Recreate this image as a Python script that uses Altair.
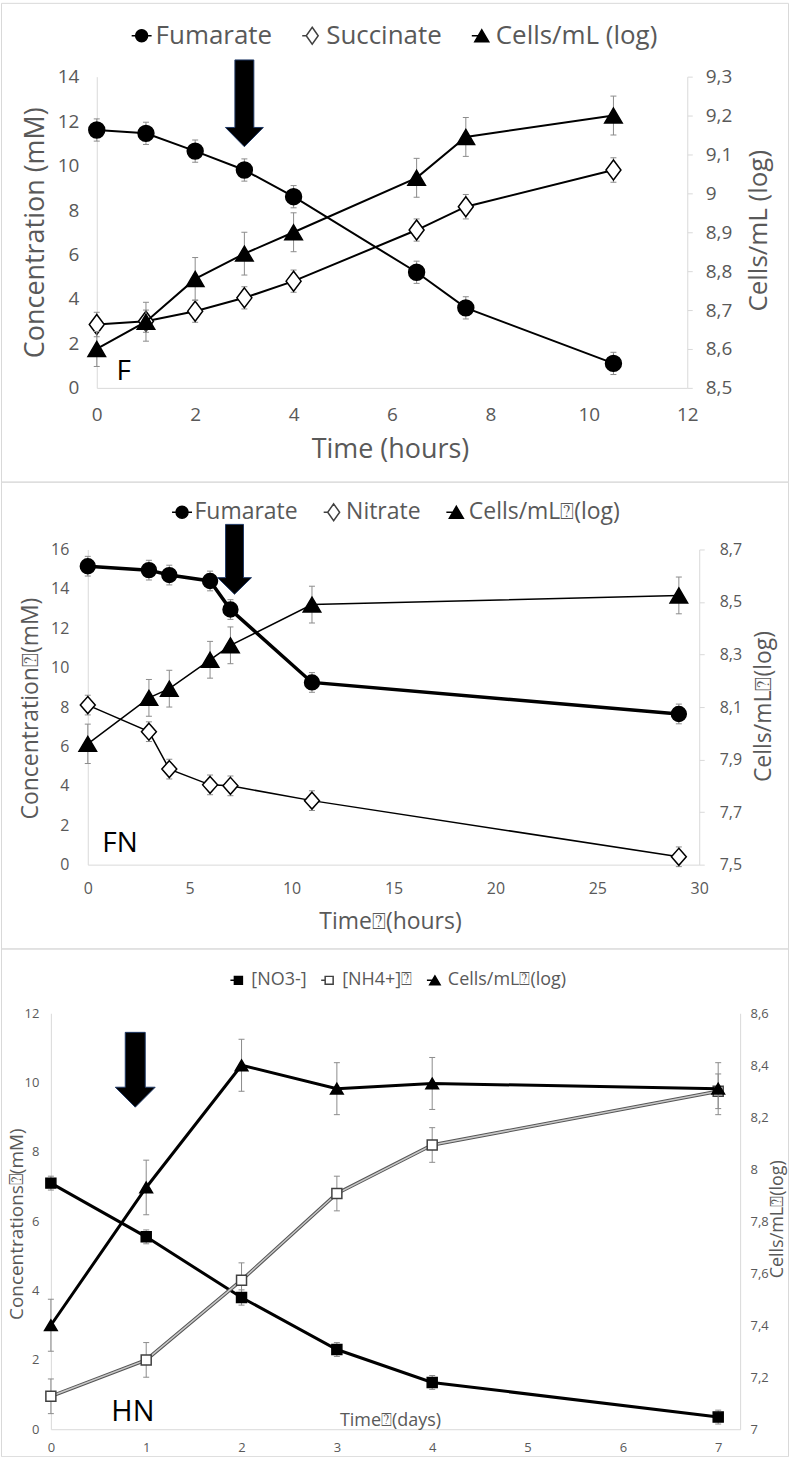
import altair as alt
import pandas as pd

FONT = "Open Sans"
GREY = "#595959"
LINE_GREY = "#d9d9d9"
ERR_GREY = "#8c8c8c"
BOX = "\u2370"

# ---------------- Panel F ----------------
f_time = [0, 1, 2, 3, 4, 6.5, 7.5, 10.5]
f_fumarate = [11.6, 11.45, 10.65, 9.8, 8.6, 5.2, 3.6, 1.1]
f_fumarate_err = [0.5, 0.5, 0.5, 0.5, 0.5, 0.5, 0.5, 0.5]
f_succinate = [2.85, 3.0, 3.45, 4.05, 4.8, 7.1, 8.15, 9.8]
f_succinate_err = [0.55, 0.5, 0.5, 0.5, 0.5, 0.5, 0.55, 0.55]
f_cells = [8.6, 8.67, 8.78, 8.845, 8.9, 9.04, 9.145, 9.2]
f_cells_err = [0.045, 0.05, 0.055, 0.055, 0.05, 0.05, 0.05, 0.05]
f_names = ["Fumarate", "Succinate", "Cells/mL (log)"]
f_xticks = [0, 2, 4, 6, 8, 10, 12]
f_lticks = [0, 2, 4, 6, 8, 10, 12, 14]
f_rticks = [8.5, 8.6, 8.7, 8.8, 8.9, 9.0, 9.1, 9.2, 9.3]
f_arrow_t = [3]
f_arrow_v = [12.8]
f_label = ["F"]
f_label_t = [0.55]
f_label_v = [0.72]

# ---------------- Panel FN ----------------
fn_time = [0, 3, 4, 6, 7, 11, 29]
fn_fumarate = [15.15, 14.95, 14.7, 14.4, 12.95, 9.25, 7.65]
fn_fumarate_err = [0.5, 0.5, 0.5, 0.5, 0.5, 0.5, 0.5]
fn_nitrate = [8.1, 6.75, 4.85, 4.05, 4.0, 3.25, 0.4]
fn_nitrate_err = [0.5, 0.5, 0.5, 0.5, 0.5, 0.5, 0.5]
fn_cells = [7.96, 8.135, 8.17, 8.28, 8.335, 8.49, 8.525]
fn_cells_err = [0.075, 0.07, 0.07, 0.07, 0.07, 0.07, 0.07]
fn_names = ["Fumarate", "Nitrate", "Cells/mL" + BOX + "(log)"]
fn_xticks = [0, 5, 10, 15, 20, 25, 30]
fn_lticks = [0, 2, 4, 6, 8, 10, 12, 14, 16]
fn_rticks = [7.5, 7.7, 7.9, 8.1, 8.3, 8.5, 8.7]
fn_arrow_t = [7.2]
fn_arrow_v = [15.5]
fn_label = ["FN"]
fn_label_t = [1.58]
fn_label_v = [1.06]

# ---------------- Panel HN ----------------
hn_time = [0, 1, 2, 3, 4, 7]
hn_no3 = [7.1, 5.55, 3.8, 2.3, 1.35, 0.35]
hn_no3_err = [0.2, 0.2, 0.22, 0.2, 0.2, 0.2]
hn_nh4 = [0.95, 2.0, 4.3, 6.8, 8.2, 9.75]
hn_nh4_err = [0.5, 0.5, 0.5, 0.5, 0.5, 0.5]
hn_cells = [7.4, 7.93, 8.4, 8.31, 8.33, 8.31]
hn_cells_err = [0.1, 0.105, 0.1, 0.1, 0.1, 0.1]
hn_names = ["[NO3-]", "[NH4+]" + BOX, "Cells/mL" + BOX + "(log)"]
hn_xticks = [0, 1, 2, 3, 4, 5, 6, 7]
hn_lticks = [0, 2, 4, 6, 8, 10, 12]
hn_rticks = [7.0, 7.2, 7.4, 7.6, 7.8, 8.0, 8.2, 8.4, 8.6]
hn_arrow_t = [0.885]
hn_arrow_v = [10.37]
hn_label = ["HN"]
hn_label_t = [0.86]
hn_label_v = [0.49]

COMMA = "replace(format(datum.value, '~g'), '.', ',')"


def frame(t, v, e=None):
    d = {"t": t, "v": v}
    if e is not None:
        d["lo"] = [a - b for a, b in zip(v, e)]
        d["hi"] = [a + b for a, b in zip(v, e)]
    return pd.DataFrame(d)


def arrow_path(hw, sw, hs):
    return (f"M{-sw},-1L{sw},-1L{sw},{hs}L{hw},{hs}L0,1L{-hw},{hs}L{-sw},{hs}Z")


def circ(r):
    return f"M{r},0A{r},{r} 0 1,1 {-r},0A{r},{r} 0 1,1 {r},0Z"


def series(df, X, ysc, yax, line_w, shape, size, fill, stroke="black",
           stroke_w=1.5, cap=3.0, line_color="black", halo=None):
    base = alt.Chart(df)
    ylo = alt.Y("lo:Q", scale=ysc, axis=yax)
    yhi = alt.Y("hi:Q", scale=ysc, axis=yax)
    yv = alt.Y("v:Q", scale=ysc, axis=yax)
    errs = [
        base.mark_rule(color=ERR_GREY, strokeWidth=1).encode(x=X, y=ylo, y2=alt.Y2("hi")),
        base.mark_rule(color=ERR_GREY, strokeWidth=1, xOffset=-cap, x2Offset=cap).encode(
            x=X, x2=alt.X2("t"), y=ylo),
        base.mark_rule(color=ERR_GREY, strokeWidth=1, xOffset=-cap, x2Offset=cap).encode(
            x=X, x2=alt.X2("t"), y=yhi),
    ]
    lines = []
    if halo is not None:
        lines.append(base.mark_line(color=halo[0], strokeWidth=halo[1]).encode(x=X, y=yv))
    lines.append(base.mark_line(color=line_color, strokeWidth=line_w).encode(x=X, y=yv))
    pts = base.mark_point(shape=shape, size=size, filled=True, fill=fill, stroke=stroke,
                          strokeWidth=stroke_w, opacity=1).encode(x=X, y=yv)
    return errs, lines, pts


def legend_layer(names, shapes, fills, strokes, X, yv, legend):
    df = pd.DataFrame({"series": names, "t": [0] * len(names), "v": [0] * len(names)})
    return alt.Chart(df).transform_filter("false").mark_point(
        opacity=1, strokeWidth=1.5, filled=False).encode(
        x=X, y=yv,
        shape=alt.Shape("series:N", scale=alt.Scale(domain=names, range=shapes), legend=legend),
        fill=alt.Fill("series:N", scale=alt.Scale(domain=names, range=fills), legend=legend),
        stroke=alt.Stroke("series:N", scale=alt.Scale(domain=names, range=strokes), legend=legend),
    )


def make_panel(cfg):
    W, H = 789, cfg["H"]
    x0, x1 = cfg["xr"]
    ytop, ybot = cfg["yr"]
    X = alt.X("t:Q", scale=alt.Scale(domain=cfg["xd"], range=[x0, x1], nice=False, zero=False),
              axis=alt.Axis(values=cfg["xticks"], offset=ybot - H, ticks=False, tickSize=0,
                            labelFontSize=cfg["tick_fs"], labelPadding=cfg["xlab_pad"],
                            labelFlush=False, title=cfg["xtitle"], titleFontSize=cfg["xtitle_fs"],
                            titleX=cfg["xtitle_x"], titleY=cfg["xtitle_y"], titleBaseline="middle"))
    lsc = alt.Scale(domain=cfg["ld"], range=[ybot, ytop], nice=False, zero=False)
    rsc = alt.Scale(domain=cfg["rd"], range=[ybot, ytop], nice=False, zero=False)
    lax = alt.Axis(values=cfg["lticks"], offset=-x0, ticks=False, tickSize=0,
                   labelFontSize=cfg["tick_fs"], labelPadding=cfg["llab_pad"], labelFlush=False,
                   title=cfg["ltitle"], titleFontSize=cfg["ltitle_fs"], titleAngle=270,
                   titleX=cfg["ltitle_x"], titleY=cfg["ltitle_y"], titleBaseline="middle")
    rax = alt.Axis(values=cfg["rticks"], offset=x1 - W, ticks=cfg["rticks_on"],
                   tickSize=5 if cfg["rticks_on"] else 0, labelExpr=COMMA,
                   labelFontSize=cfg["tick_fs"], labelPadding=cfg["rlab_pad"], labelFlush=False,
                   title=cfg["rtitle"], titleFontSize=cfg["rtitle_fs"], titleAngle=270,
                   titleX=cfg["rtitle_x"], titleY=cfg["rtitle_y"], titleBaseline="middle")

    errs_l, lines_l, pts_l = [], [], []
    for s in cfg["left_series"]:
        e, l, p = series(s["df"], X, lsc, lax, s["lw"], s["shape"], s["size"], s["fill"],
                         stroke=s.get("stroke", "black"), halo=s.get("halo"),
                         line_color=s.get("lc", "black"))
        errs_l += e
        lines_l += l
        pts_l.append(p)
    s = cfg["right_series"]
    e, l, p = series(s["df"], X, rsc, rax, s["lw"], s["shape"], s["size"], s["fill"])
    right_layers = e + l + [p]

    yv = alt.Y("v:Q", scale=lsc, axis=lax)
    leg = alt.Legend(orient="none", legendX=cfg["legx"], legendY=cfg["legy"],
                     direction="horizontal", columns=3, title=None,
                     labelFont=FONT, labelFontSize=cfg["leg_fs"], labelColor=GREY,
                     labelLimit=500, labelOffset=cfg["leg_off"], columnPadding=cfg["leg_gap"],
                     symbolSize=cfg["leg_sym"] ** 2, symbolStrokeWidth=1.5, padding=0)
    leglayer = legend_layer(cfg["names"], cfg["leg_shapes"], cfg["leg_fills"],
                            cfg["leg_strokes"], X, yv, leg)

    arrow = alt.Chart(frame(cfg["arrow_t"], cfg["arrow_v"])).mark_point(
        shape=cfg["arrow_shape"], size=cfg["arrow_h"] ** 2, filled=True, fill="black",
        stroke="#1f3864", strokeWidth=1, opacity=1).encode(x=X, y=yv)
    lab = alt.Chart(pd.DataFrame({"t": cfg["label_t"], "v": cfg["label_v"], "txt": cfg["label"]})
                    ).mark_text(font=FONT, fontSize=cfg["label_fs"], color="black",
                                align="center", baseline="middle").encode(x=X, y=yv, text="txt:N")

    left_layers = errs_l + lines_l + pts_l + [arrow, lab, leglayer]
    left = alt.layer(*left_layers)
    right = alt.layer(*right_layers)
    return alt.layer(left, right).resolve_scale(y="independent").properties(width=W, height=H)


TRI = "M0,-0.85L1,0.85L-1,0.85Z"
DIA = "M0,-1L0.75,0L0,1L-0.75,0Z"
DIA2 = "M0,-1L0.88,0L0,1L-0.88,0Z"

cfgF = dict(
    H=480, xr=(96, 688), yr=(74, 386), xd=[0, 12], ld=[0, 14], rd=[8.5, 9.3],
    xticks=f_xticks, lticks=f_lticks, rticks=f_rticks, rticks_on=True,
    tick_fs=19, xlab_pad=18, llab_pad=18, rlab_pad=13,
    xtitle="Time (hours)", xtitle_fs=27, xtitle_x=390, xtitle_y=62,
    ltitle="Concentration (mM)", ltitle_fs=27, ltitle_x=-61, ltitle_y=230,
    rtitle="Cells/mL (log)", rtitle_fs=26, rtitle_x=71, rtitle_y=228,
    left_series=[
        dict(df=frame(f_time, f_fumarate, f_fumarate_err), lw=2, shape="circle", size=254, fill="black"),
        dict(df=frame(f_time, f_succinate, f_succinate_err), lw=2, shape=DIA, size=400, fill="white"),
    ],
    right_series=dict(df=frame(f_time, f_cells, f_cells_err), lw=2, shape=TRI, size=310, fill="black"),
    names=f_names,
    leg_shapes=["M-1,0H1" + circ(0.6), "M-1,0H-0.6" + "M0,-0.85L0.6,0L0,0.85L-0.6,0Z",
                "M-1,0H0" + "M0,-0.6L0.7,0.6L-0.7,0.6Z"],
    leg_fills=["black", "white", "black"],
    leg_strokes=["black", "#404040", "black"],
    legx=128, legy=20, leg_fs=26, leg_off=1, leg_gap=27, leg_sym=20,
    arrow_t=f_arrow_t, arrow_v=f_arrow_v, arrow_h=87, arrow_shape=arrow_path(0.437, 0.218, 0.556),
    label=f_label, label_t=f_label_t, label_v=f_label_v, label_fs=28,
)

cfgFN = dict(
    H=468, xr=(87, 700), yr=(68, 384), xd=[0, 30], ld=[0, 16], rd=[7.5, 8.7],
    xticks=fn_xticks, lticks=fn_lticks, rticks=fn_rticks, rticks_on=True,
    tick_fs=16, xlab_pad=16, llab_pad=19, rlab_pad=15,
    xtitle="Time" + BOX + "(hours)", xtitle_fs=23, xtitle_x=390, xtitle_y=57,
    ltitle="Concentration" + BOX + "(mM)", ltitle_fs=23, ltitle_x=-57, ltitle_y=227,
    rtitle="Cells/mL" + BOX + "(log)", rtitle_fs=23, rtitle_x=64, rtitle_y=225,
    left_series=[
        dict(df=frame(fn_time, fn_fumarate, fn_fumarate_err), lw=3.5, shape="circle", size=222, fill="black"),
        dict(df=frame(fn_time, fn_nitrate, fn_nitrate_err), lw=1.5, shape=DIA2, size=289, fill="white"),
    ],
    right_series=dict(df=frame(fn_time, fn_cells, fn_cells_err), lw=1.5, shape=TRI, size=310, fill="black"),
    names=fn_names,
    leg_shapes=["M-1,0H1" + circ(0.6), "M-1,0H-0.6" + "M0,-0.85L0.6,0L0,0.85L-0.6,0Z",
                "M-1,0H0" + "M0,-0.6L0.7,0.6L-0.7,0.6Z"],
    leg_fills=["black", "white", "black"],
    leg_strokes=["black", "#404040", "black"],
    legx=170, legy=19, leg_fs=23, leg_off=1, leg_gap=22, leg_sym=20,
    arrow_t=fn_arrow_t, arrow_v=fn_arrow_v, arrow_h=70, arrow_shape=arrow_path(0.486, 0.257, 0.526),
    label=fn_label, label_t=fn_label_t, label_v=fn_label_v, label_fs=28,
)

cfgHN = dict(
    H=509, xr=(50, 741), yr=(65, 482), xd=[0, 7.23], ld=[0, 12], rd=[7.0, 8.6],
    xticks=hn_xticks, lticks=hn_lticks, rticks=hn_rticks, rticks_on=False,
    tick_fs=13, xlab_pad=12, llab_pad=12, rlab_pad=10,
    xtitle="Time" + BOX + "(days)", xtitle_fs=18, xtitle_x=390, xtitle_y=-9,
    ltitle="Concentrations" + BOX + "(mM)", ltitle_fs=19, ltitle_x=-34, ltitle_y=276,
    rtitle="Cells/mL" + BOX + "(log)", rtitle_fs=18, rtitle_x=37, rtitle_y=271,
    left_series=[
        dict(df=frame(hn_time, hn_no3, hn_no3_err), lw=3, shape="square", size=100, fill="black"),
        dict(df=frame(hn_time, hn_nh4, hn_nh4_err), lw=1.5, shape="square", size=100, fill="white",
             stroke="#404040", halo=("#555555", 3.5), lc="#c8c8c8"),
    ],
    right_series=dict(df=frame(hn_time, hn_cells, hn_cells_err), lw=3, shape=TRI, size=160, fill="black"),
    names=hn_names,
    leg_shapes=["M-1,0H0" + "M-0.5,-0.5H0.5V0.5H-0.5Z",
                "M-1,0H-0.5" + "M-0.5,-0.5H0.5V0.5H-0.5Z",
                "M-1,0H0" + "M0,-0.55L0.65,0.55L-0.65,0.55Z"],
    leg_fills=["black", "white", "black"],
    leg_strokes=["black", "#404040", "black"],
    legx=229, legy=23, leg_fs=18, leg_off=4, leg_gap=11, leg_sym=16,
    arrow_t=hn_arrow_t, arrow_v=hn_arrow_v, arrow_h=75, arrow_shape=arrow_path(0.533, 0.267, 0.467),
    label=hn_label, label_t=hn_label_t, label_v=hn_label_v, label_fs=29,
)

pF = make_panel(cfgF)
pFN = make_panel(cfgFN)
pHN = make_panel(cfgHN)

chart = alt.vconcat(pF, pFN, pHN, spacing=0, bounds="flush").resolve_scale(
    x="independent", y="independent", shape="independent", fill="independent",
    stroke="independent"
).resolve_legend(shape="independent", fill="independent", stroke="independent").properties(
    padding=0, background="white"
).configure_view(stroke=LINE_GREY, strokeWidth=1).configure_axis(
    grid=False, labelFont=FONT, titleFont=FONT, labelColor=GREY, titleColor=GREY,
    titleFontWeight="normal", domainColor=LINE_GREY, tickColor=LINE_GREY, domainWidth=1,
    labelOverlap=False
)

chart.save("out.html", embed_options={"renderer": "svg", "actions": False})
